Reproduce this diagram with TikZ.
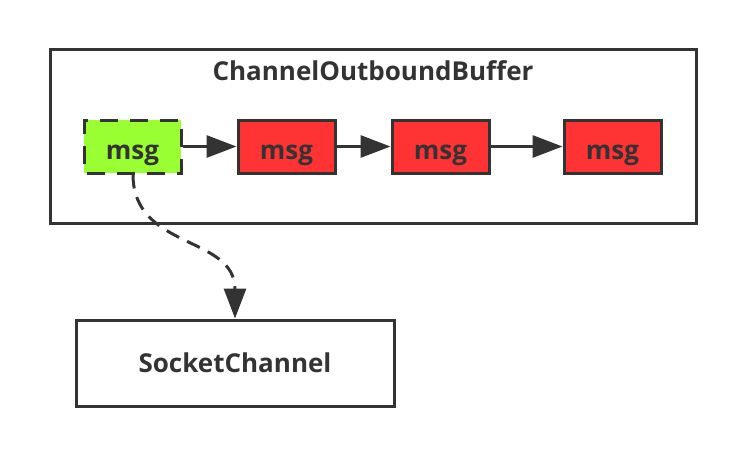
\documentclass[tikz,border=0pt]{standalone}
\usepackage{fontspec}
\setmainfont{Open Sans}
\usetikzlibrary{arrows.meta}
\definecolor{ink}{HTML}{333333}
\definecolor{msggreen}{HTML}{99FF33}
\definecolor{msgred}{HTML}{FF3333}
\tikzset{
  bold label/.style={font=\fontsize{26}{31}\selectfont\bfseries, text=ink},
  msgbox/.style={draw=ink, line width=3pt, minimum width=97pt, minimum height=53pt,
    inner sep=0pt, text height=25pt, text depth=0pt, bold label},
  link/.style={draw=ink, line width=3pt, -{Triangle[length=30pt,width=22pt]}}
}
\begin{document}
\begin{tikzpicture}[x=1pt, y=-1pt]
  \useasboundingbox (0,0) rectangle (746,456);

  % Buffer
  \node[draw=ink, line width=3pt, minimum width=646pt, minimum height=174pt, inner sep=0pt] (buf) at (373,136) {};
  \node[bold label] (title) at (373,71) {ChannelOutboundBuffer};

  % Messages
  \node[msgbox, fill=msggreen, dash pattern=on 18pt off 12pt, dash phase=-3pt] (m1) at (132.5,146.5) {msg};
  \node[msgbox, fill=msgred] (m2) at (286.5,146.5) {msg};
  \node[msgbox, fill=msgred] (m3) at (440.5,146.5) {msg};
  \node[msgbox, fill=msgred] (m4) at (612.5,146.5) {msg};

  % Channel
  \node[draw=ink, line width=3pt, minimum width=318pt, minimum height=86pt, inner sep=0pt,
    bold label] (sock) at (235,363) {SocketChannel};

  \draw[link] (m1) -- (m2);
  \draw[link] (m2) -- (m3);
  \draw[link] (m3) -- (m4);
  \draw[link, dash pattern=on 14pt off 9pt] (133,174.5) .. controls (133,250) and (235,235) .. (sock.north -| 235,0);
\end{tikzpicture}
\end{document}
